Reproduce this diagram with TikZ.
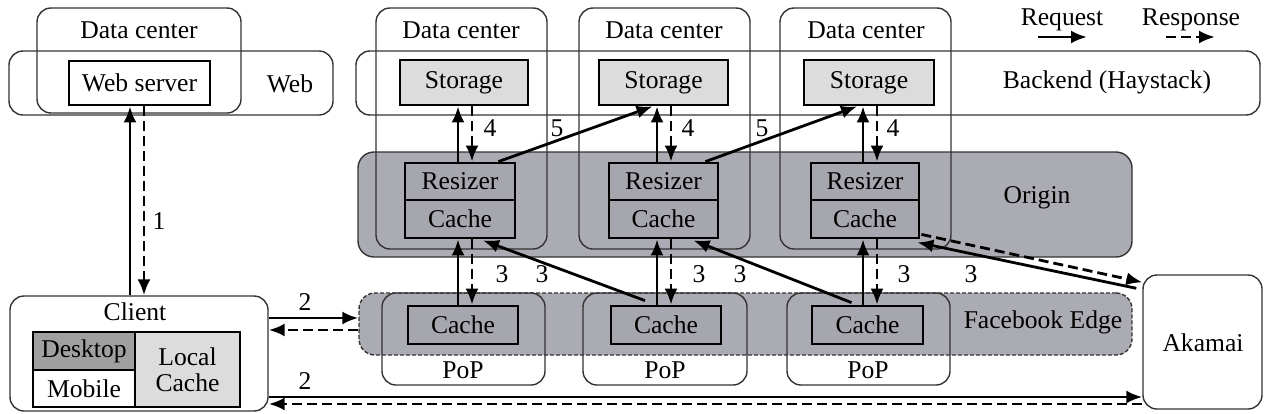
\documentclass[tikz,border=0pt]{standalone}
\usepackage{fontspec}
\setmainfont{Liberation Serif}
\usetikzlibrary{fit,calc,arrows.meta}
\definecolor{origfill}{HTML}{ABABB3}
\definecolor{boxfill}{HTML}{A6A6AE}
\definecolor{lightfill}{HTML}{DCDCDC}
\definecolor{deskfill}{HTML}{A0A0A0}
\definecolor{regline}{HTML}{333333}
\begin{document}
\begin{tikzpicture}[x=0.5pt,y=-0.5pt,
  font=\fontsize{12.8}{15}\selectfont,
  region/.style={draw=regline, line width=0.7pt, rounded corners=7pt, inner sep=0pt},
  box/.style={draw=black, line width=1.4pt, inner sep=0pt},
  lbl/.style={inner sep=0pt},
  req/.style={line width=1.4pt, -{Latex[length=8pt,width=6.5pt]}},
  resp/.style={line width=1.4pt, dash pattern=on 5pt off 2.5pt, -{Latex[length=8pt,width=6.5pt]}},
]
\useasboundingbox (0,0) rectangle (1267,413);

% shaded bands
\node[region, fill=origfill, rounded corners=8pt, fit={(358,152) (1132,257)}] (origin) {};
\node[region, fill=origfill, rounded corners=8pt, dash pattern=on 2pt off 1pt, fit={(359,293) (1132,355)}] (edge) {};

% outline regions
\node[region, fit={(9,51) (333,115)}] (web) {};
\node[region, fit={(356,51) (1260,115)}] (backend) {};
\node[region, fit={(37,8) (241,113)}] (dc0) {};
\node[region, fit={(376,8) (547,249)}] (dc1) {};
\node[region, fit={(579,8) (750,249)}] (dc2) {};
\node[region, fit={(780,8) (951,249)}] (dc3) {};
\node[region, fit={(382,293) (545,385)}] (pop1) {};
\node[region, fit={(583,293) (747,385)}] (pop2) {};
\node[region, fit={(787,293) (950,385)}] (pop3) {};
\node[region, fit={(10,296) (268,411)}] (client) {};
\node[region, fit={(1143,275) (1262,409)}] (akamai) {};

% region labels
\node[lbl] (l-dc0) at (139,30) {Data center};
\node[lbl] (l-dc1) at (461,30) {Data center};
\node[lbl] (l-dc2) at (664,30) {Data center};
\node[lbl] (l-dc3) at (866,30) {Data center};
\node[lbl] (l-web) at (290,84) {Web};
\node[lbl] (l-back) at (1107,82) {Backend (Haystack)};
\node[lbl] (l-orig) at (1037,198) {Origin};
\node[lbl] (l-edge) at (1043,322) {Facebook Edge};
\node[lbl] (l-pop1) at (463,370) {PoP};
\node[lbl] (l-pop2) at (665,370) {PoP};
\node[lbl] (l-pop3) at (868,370) {PoP};
\node[lbl] (l-client) at (135,312) {Client};
\node[lbl] (l-ak) at (1203,343) {Akamai};

% inner boxes
\node[box, fill=white, fit={(69,61) (210,105)}] (ws) {};
\node[lbl] at (ws.center) {Web server};
\foreach \i/\a/\b in {1/400/528, 2/599/728, 3/804/934}{
  \node[box, fill=lightfill, fit={(\a,60) (\b,105)}] (st\i) {};
  \node[lbl] at (st\i.center) {Storage};
}
\foreach \i/\a/\b in {1/405/515, 2/609/718, 3/811/919}{
  \node[box, fill=boxfill, fit={(\a,163) (\b,200)}] (rz\i) {};
  \node[lbl] at (rz\i.center) {Resizer};
  \node[box, fill=boxfill, fit={(\a,200) (\b,238)}] (ca\i) {};
  \node[lbl] at (ca\i.center) {Cache};
}
\foreach \i/\a/\b in {1/408/518, 2/611/721, 3/812/923}{
  \node[box, fill=boxfill, fit={(\a,306) (\b,344)}] (pc\i) {};
  \node[lbl] at (pc\i.center) {Cache};
}
\node[box, fill=deskfill, fit={(33,332) (135,370)}] (desk) {};
\node[lbl] at (desk.center) {Desktop};
\node[box, fill=white, fit={(33,370) (135,407)}] (mob) {};
\node[lbl] at (mob.center) {Mobile};
\node[box, fill=lightfill, fit={(135,332) (240,407)}] (lc) {};
\node[lbl, align=center] at (lc.center) {Local\\[-2pt]Cache};

% legend
\node[lbl] (l-req) at (1062,20) {Request};
\node[lbl] (l-resp) at (1191,20) {Response};
\coordinate (rq1) at (1038,37);
\coordinate (rq2) at (1087,37);
\coordinate (rs1) at (1166,37);
\coordinate (rs2) at (1215,37);
\draw[req] (rq1) -- (rq2);
\draw[resp] (rs1) -- (rs2);

% step 1
\draw[req] (130,0 |- client.north) -- (130,0 |- ws.south);
\draw[resp] (144,0 |- ws.south) -- (144,0 |- client.north);
\node[lbl] at (159,221) {1};

% step 2
\draw[req] (client.east |- 0,318) -- (edge.west |- 0,318);
\draw[resp] (edge.west |- 0,330) -- (client.east |- 0,330);
\node[lbl] at (305,302) {2};
\draw[req] (client.east |- 0,397) -- (akamai.west |- 0,397);
\draw[resp] (akamai.west |- 0,404) -- (client.east |- 0,404);
\node[lbl] at (305,381) {2};

% step 3 and 4 (vertical)
\foreach \i/\s/\d in {1/458/472, 2/657/671, 3/863/877}{
  \draw[req] (\s,0 |- rz\i.north) -- (\s,0 |- st\i.south);
  \draw[resp] (\d,0 |- st\i.south) -- (\d,0 |- rz\i.north);
  \draw[req] (\s,0 |- pc\i.north) -- (\s,0 |- ca\i.south);
  \draw[resp] (\d,0 |- ca\i.south) -- (\d,0 |- pc\i.north);
}
\node[lbl] at (490,128) {4};
\node[lbl] at (688,128) {4};
\node[lbl] at (893,128) {4};

% step 5
\draw[req] ($(rz1.north east)+(-18,0)$) -- ($(st2.south)+(-11,0)$);
\draw[req] ($(rz2.north east)+(-14,0)$) -- ($(st3.south)+(-12,0)$);
\node[lbl] at (557,128) {5};
\node[lbl] at (762,128) {5};

% step 3 diagonals
\draw[req] ($(pc2.north)+(-21,-4)$) -- ($(ca1.south)+(23,1)$);
\draw[req] ($(pc3.north)+(-16,-2)$) -- ($(ca2.south)+(30,1)$);
\draw[req] ($(akamai.north west)+(-6,14)$) -- ($(ca3.south east)+(-3,3)$);
\draw[resp] ($(ca3.south east)+(1,-5)$) -- ($(akamai.north west)+(0,8)$);
\foreach \x in {502,542,699,740,904,971}{\node[lbl] at (\x,274) {3};}

\end{tikzpicture}
\end{document}
